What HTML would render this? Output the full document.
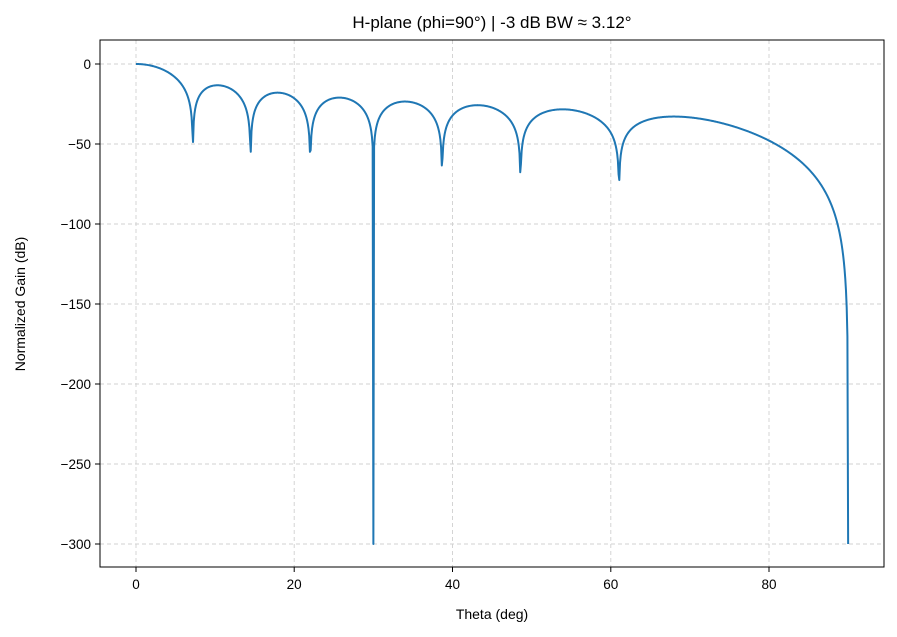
<!DOCTYPE html>
<html><head><meta charset="utf-8"><style>
body{margin:0;background:#fff;}
svg{display:block;font-family:"Liberation Sans","DejaVu Sans",sans-serif;}
</style></head><body>
<svg id="s" width="897" height="637" viewBox="0 0 897 637" xmlns="http://www.w3.org/2000/svg">
<rect width="897" height="637" fill="#fff"/>
<g stroke="#d0d0d0" stroke-width="0.9" stroke-dasharray="4,3">
<line x1="136" y1="40" x2="136" y2="567"/><line x1="294.2" y1="40" x2="294.2" y2="567"/><line x1="452.5" y1="40" x2="452.5" y2="567"/><line x1="610.8" y1="40" x2="610.8" y2="567"/><line x1="769" y1="40" x2="769" y2="567"/>
<line x1="100" y1="64" x2="884" y2="64"/><line x1="100" y1="144" x2="884" y2="144"/><line x1="100" y1="224" x2="884" y2="224"/><line x1="100" y1="304" x2="884" y2="304"/><line x1="100" y1="384" x2="884" y2="384"/><line x1="100" y1="464" x2="884" y2="464"/><line x1="100" y1="544" x2="884" y2="544"/>
</g>
<path id="c" fill="none" stroke="#1f77b4" stroke-width="2" stroke-linejoin="round"/>
<rect x="100" y="40" width="784" height="527" fill="none" stroke="#000" stroke-width="1"/>
<g stroke="#000" stroke-width="1">
<line x1="136" y1="567" x2="136" y2="572"/><line x1="294.2" y1="567" x2="294.2" y2="572"/><line x1="452.5" y1="567" x2="452.5" y2="572"/><line x1="610.8" y1="567" x2="610.8" y2="572"/><line x1="769" y1="567" x2="769" y2="572"/>
<line x1="95" y1="64" x2="100" y2="64"/><line x1="95" y1="144" x2="100" y2="144"/><line x1="95" y1="224" x2="100" y2="224"/><line x1="95" y1="304" x2="100" y2="304"/><line x1="95" y1="384" x2="100" y2="384"/><line x1="95" y1="464" x2="100" y2="464"/><line x1="95" y1="544" x2="100" y2="544"/>
</g>
<g font-size="13.5" fill="#000" text-anchor="middle">
<text x="136" y="589">0</text><text x="294.2" y="589">20</text><text x="452.5" y="589">40</text><text x="610.8" y="589">60</text><text x="769" y="589">80</text>
</g>
<g font-size="13.5" fill="#000" text-anchor="end">
<text x="91" y="69">0</text><text x="91" y="149">−50</text><text x="91" y="229">−100</text><text x="91" y="309">−150</text><text x="91" y="389">−200</text><text x="91" y="469">−250</text><text x="91" y="549">−300</text>
</g>
<text x="492" y="619" font-size="14" text-anchor="middle">Theta (deg)</text>
<text transform="translate(25,304) rotate(-90)" font-size="14" text-anchor="middle">Normalized Gain (dB)</text>
<text x="492" y="28" font-size="17" text-anchor="middle">H-plane (phi=90°) |  -3 dB BW ≈ 3.12°</text>
</svg>
<script>
(function(){
var N=1000,d=[],pts=[];
for(var i=0;i<N;i++){
 var th=90*i/(N-1), r=th*Math.PI/180, u=Math.sin(r);
 var af;
 if(u<1e-12) af=1; else af=Math.sin(8*Math.PI*u)/(16*Math.sin(Math.PI*u/2));
 var g=Math.abs(af*Math.cos(r));
 if(i==333||i==N-1) g=0;
 var db=20*Math.log10(Math.max(g,1e-15));
 if(db<-300) db=-300;
 pts.push((136+th*7.9125).toFixed(2)+","+(64-db*1.6).toFixed(2));
}
document.getElementById("c").setAttribute("d","M"+pts.join("L"));
})();
</script>
</body></html>
